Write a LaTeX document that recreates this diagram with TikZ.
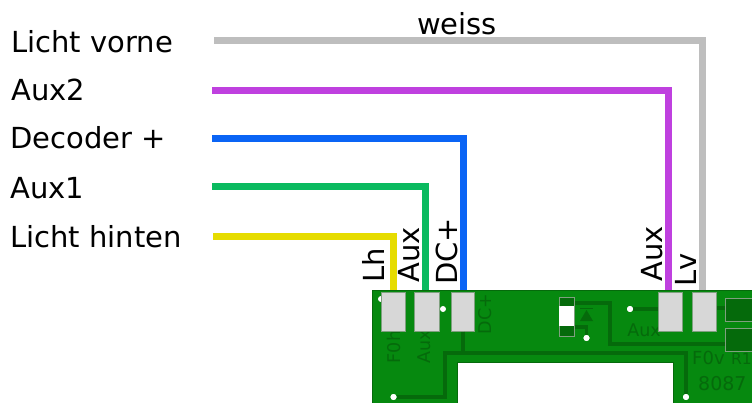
\documentclass[tikz,border=0pt]{standalone}
\usepackage{fontspec}
\setmainfont{DejaVu Sans}
\definecolor{board}{HTML}{06890F}
\definecolor{trace}{HTML}{056A0B}
\definecolor{padfill}{HTML}{D7D7D7}
\definecolor{padline}{HTML}{7FA07F}
\definecolor{wgrey}{HTML}{BEBEBE}
\definecolor{wmag}{HTML}{BF40DF}
\definecolor{wblue}{HTML}{0A64F5}
\definecolor{wgreen}{HTML}{0ABA5F}
\definecolor{wyellow}{HTML}{E6DC00}
\tikzset{
  wire/.style={line width=7pt,line join=miter},
  lbl/.style={font=\fontsize{29}{32}\selectfont,anchor=base west,inner sep=0pt,text=black},
  vlbl/.style={font=\fontsize{29}{32}\selectfont,rotate=90,anchor=base west,inner sep=0pt,text=black},
  padbox/.style={fill=padfill,draw=padline,line width=1pt,minimum width=24pt,minimum height=38pt,inner sep=0pt,anchor=north west},
  darkpad/.style={fill=trace,draw=padline,line width=1pt,minimum width=30pt,minimum height=23pt,inner sep=0pt,anchor=north west},
  tr/.style={draw=trace,line width=3.6pt,line join=miter},
  hole/.style={circle,fill=white,draw=none,minimum size=6pt,inner sep=0pt},
  silk/.style={font=\fontsize{17.5}{19}\selectfont,text=trace,inner sep=0pt},
  silkb/.style={font=\fontsize{19}{22}\selectfont,text=trace,inner sep=0pt,anchor=base west},
}
\begin{document}
\begin{tikzpicture}[x=1pt,y=-1pt]
\useasboundingbox (0,0) rectangle (752,403);
% board
\fill[board] (372,290) rectangle (752,403);
\draw[trace,line width=1.5pt] (372.7,403) -- (372.7,290.7) -- (752,290.7);
\fill[white] (457,362) rectangle (673,403);
\draw[trace,line width=1pt] (457,403) -- (457,362) -- (673,362) -- (673,403);
% silk
\node[silk,rotate=90] at (394,347) {F0h};
\node[silk,rotate=90] at (424.5,347) {Aux};
\node[silk,rotate=90] at (485,314) {DC+};
\node[silk] at (644,330) {Aux};
\node[silkb,font=\fontsize{18}{20}\selectfont] at (692,364) {F0v};
\node[silkb,font=\fontsize{15.5}{18}\selectfont] at (731,364) {R1};
\node[silkb] at (698,390) {8087};
% holes
\node[hole] (h1) at (381,299) {};
\node[hole] (h2) at (443,309) {};
\node[hole] (h3) at (393.5,397) {};
\node[hole] (h4) at (630,309) {};
\node[hole] (h5) at (586.5,338) {};
\node[hole] (h6) at (686,397) {};
% pads
\node[padbox] (p1) at (381,292.5) {};
\node[padbox,minimum width=25pt] (p2) at (414,292.5) {};
\node[padbox,minimum width=23pt] (p3) at (451,292.5) {};
\node[padbox] (p4) at (658,292.5) {};
\node[padbox] (p5) at (692,292.5) {};
\node[darkpad] (r1) at (725,297.5) {};
\node[darkpad] (r2) at (725,328) {};
% traces
\coordinate (c1) at (445,397);
\coordinate (c2) at (445,353);
\coordinate (c3) at (686,353);
\coordinate (c4) at (610,344);
\coordinate (c5) at (610,303);
\coordinate (c6) at (574,303);
\coordinate (c7) at (574,327);
\coordinate (c8) at (586.5,327);
\draw[tr] (h3) -- (c1) -- (c2) -- (c3) -- (h6);
\draw[tr] (p3.south) -- (p3.south |- c2);
\draw[tr] (h4) -- (p4.west |- h4);
\draw[tr] (p5.east |- 0,308) -- (r1.west |- 0,308);
\draw[tr] (r2.west |- c4) -- (c4) -- (c5) -- (c6);
\draw[tr] (c7) -- (c8) -- (h5);
\node[hole] at (h3) {};
\node[hole] at (h4) {};
\node[hole] at (h5) {};
\node[hole] at (h6) {};
% LED
\node[fill=trace,draw=padline,line width=1pt,minimum width=15pt,minimum height=39pt,inner sep=0pt,anchor=north west] (led) at (559,296.5) {};
\fill[white] (558.8,306) rectangle (574.2,326);
\fill[trace] (580,321) -- (593,321) -- (586.5,310) -- cycle;
\draw[trace,line width=1.4pt] (580,308.5) -- (593,308.5);
% wires
\coordinate (wa) at (214,41);
\coordinate (wb) at (212,90.5);
\coordinate (wc) at (212,138.5);
\coordinate (wd) at (212,187);
\coordinate (we) at (213,236.5);
\coordinate (ta) at (702.5,290);
\coordinate (tb) at (668,290);
\coordinate (tc) at (463,290);
\coordinate (td) at (425,290);
\coordinate (te) at (393,290);
\draw[wire,wgrey] (wa) -| (ta);
\draw[wire,wmag] (wb) -| (tb);
\draw[wire,wblue] (wc) -| (tc);
\draw[wire,wgreen] (wd) -| (td);
\draw[wire,wyellow] (we) -| (te);
% labels
\node[lbl] (l1) at (11,52.5) {Licht vorne};
\node[lbl] (l2) at (11,101) {Aux2};
\node[lbl] (l3) at (10,149) {Decoder +};
\node[lbl] (l4) at (10,199) {Aux1};
\node[lbl] (l5) at (10,248) {Licht hinten};
\node[lbl] (l6) at (417,34.5) {weiss};
\node[vlbl] (v1) at (384,283) {Lh};
\node[vlbl] (v2) at (419,283) {Aux};
\node[vlbl] (v3) at (457,285) {DC+};
\node[vlbl] (v4) at (662,282) {Aux};
\node[vlbl] (v5) at (696,287) {Lv};
\end{tikzpicture}
\end{document}
